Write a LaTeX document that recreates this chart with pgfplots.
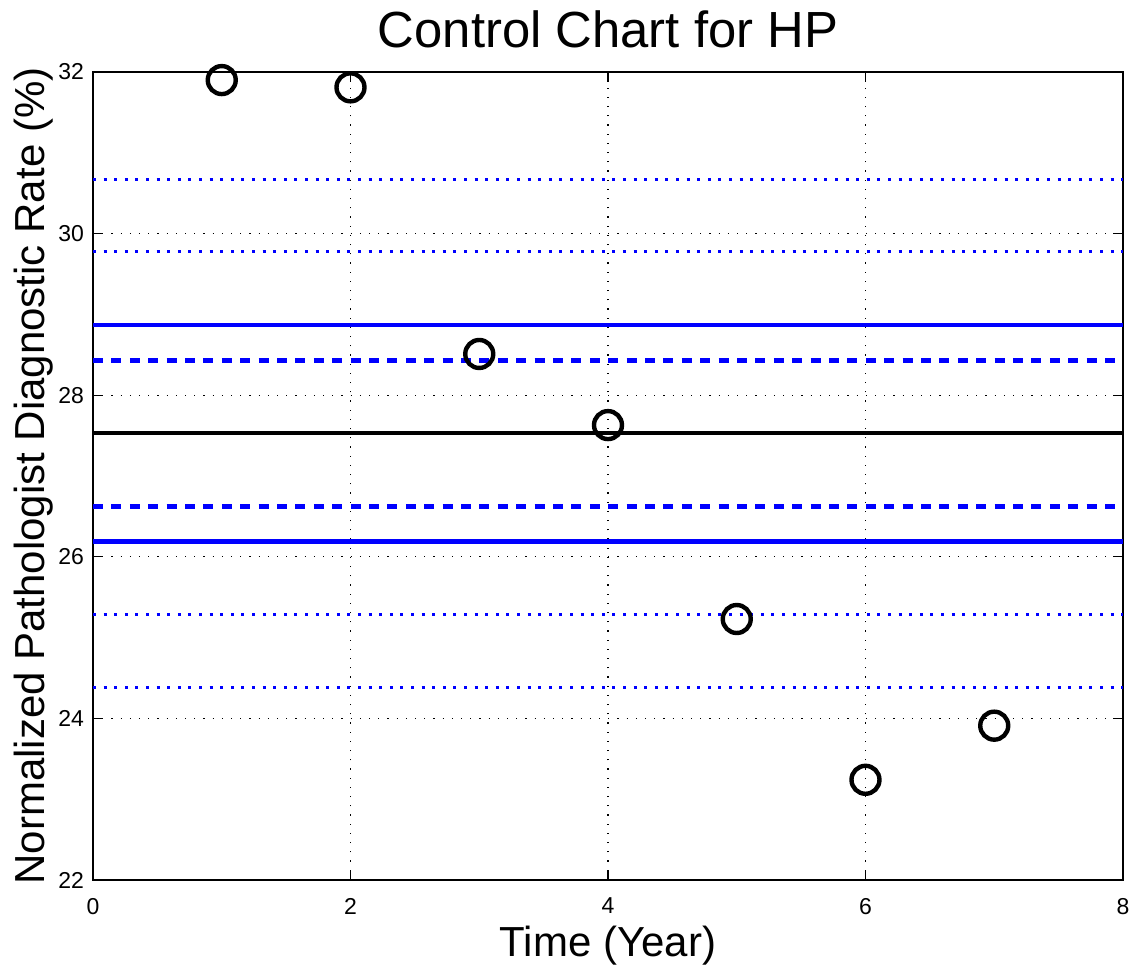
\documentclass[border=0pt]{standalone}
\usepackage{fontspec}
\setmainfont{Liberation Sans}
\usepackage{pgfplots}
\pgfplotsset{compat=1.18}
\begin{document}
\begin{tikzpicture}
\path[use as bounding box] (-46.5pt,-46.5pt) rectangle (521pt,440pt);
\begin{axis}[
  at={(0,0)}, anchor=south west,
  scale only axis,
  width=515pt, height=404pt,
  xmin=0, xmax=8, ymin=22, ymax=32,
  xtick={0,2,4,6,8}, ytick={22,24,26,28,30,32},
  /pgf/number format/assume math mode=true,
  ticklabel style={font=\fontsize{11.5}{13}\selectfont},
  xticklabel style={yshift=-5.5pt},
  yticklabel style={xshift=-1pt},
  tick pos=both, tick align=inside, major tick length=5pt,
  axis line style={line width=0.6pt},
  every tick/.style={line width=0.6pt, black},
  grid=major,
  major grid style={black, line width=0.6pt, dash pattern=on 0.6pt off 4pt},
  title={Control Chart for HP},
  title style={font=\fontsize{25.4}{30}\selectfont, at={(axis description cs:0.5,1)}, anchor=base, yshift=6pt},
  xlabel={Time (Year)},
  xlabel style={font=\fontsize{21}{24}\selectfont, at={(axis description cs:0.5,0)}, anchor=base, yshift=-38.5pt},
  ylabel={Normalized Pathologist Diagnostic Rate (\%)},
  ylabel style={font=\fontsize{21}{24}\selectfont, at={(axis description cs:0,0.5)}, anchor=base, yshift=24pt},
  clip=false,
]
% control limits
\addplot[blue, line width=1.5pt, dash pattern=on 1.5pt off 3.8pt] coordinates {(0,30.67) (8,30.67)};
\addplot[blue, line width=1.5pt, dash pattern=on 1.5pt off 3.8pt] coordinates {(0,29.78) (8,29.78)};
\addplot[blue, line width=2.2pt] coordinates {(0,28.87) (8,28.87)};
\addplot[blue, line width=2.2pt, dash pattern=on 5pt off 4.2pt] coordinates {(0,28.43) (8,28.43)};
\addplot[black, line width=2.2pt] coordinates {(0,27.53) (8,27.53)};
\addplot[blue, line width=2.2pt, dash pattern=on 5pt off 4.2pt] coordinates {(0,26.62) (8,26.62)};
\addplot[blue, line width=2.2pt] coordinates {(0,26.19) (8,26.19)};
\addplot[blue, line width=1.5pt, dash pattern=on 1.5pt off 3.8pt] coordinates {(0,25.28) (8,25.28)};
\addplot[blue, line width=1.5pt, dash pattern=on 1.5pt off 3.8pt] coordinates {(0,24.385) (8,24.385)};
% data
\addplot[only marks, mark=o, mark size=7pt, mark options={black, line width=2.2pt}] coordinates {
(1,31.90) (2,31.81) (3,28.51) (4,27.63) (5,25.23) (6,23.24) (7,23.91)};
\end{axis}
\end{tikzpicture}
\end{document}
